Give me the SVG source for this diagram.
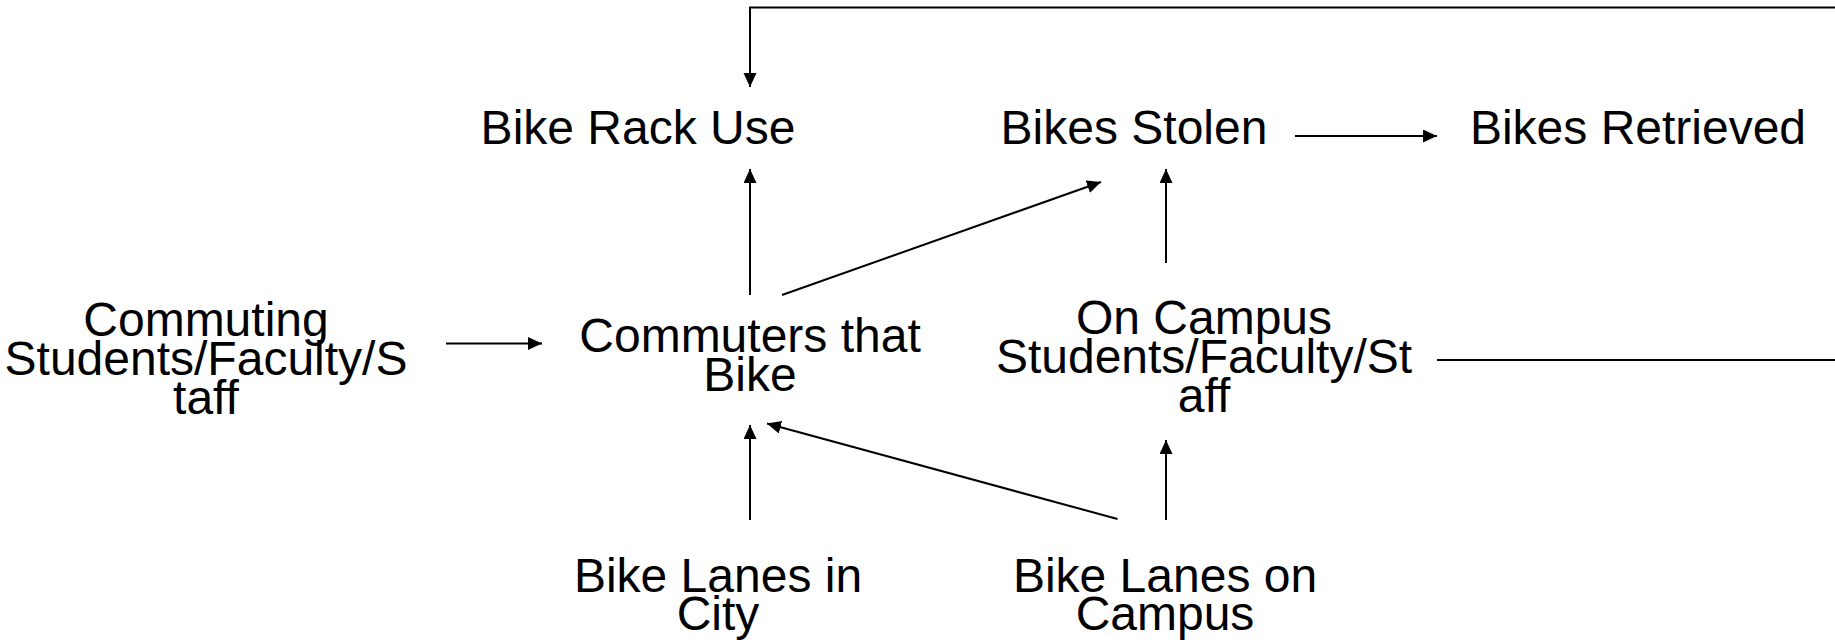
<svg xmlns="http://www.w3.org/2000/svg" width="1835" height="643" viewBox="0 0 1835 643">
  <style>
    text { font-family: "Liberation Sans", Arial, sans-serif; font-size: 48px; fill: #000; text-anchor: middle; }
    .edge { stroke: #000; stroke-width: 2; fill: none; }
    .arr { marker-end: url(#ah); }
  </style>
  <defs>
    <marker id="ah" markerUnits="userSpaceOnUse" markerWidth="16" markerHeight="14" refX="14" refY="6.5" orient="auto">
      <path d="M0,0 L14,6.5 L0,13 z" fill="#000"/>
    </marker>
  </defs>
  <rect width="1835" height="643" fill="#fff"/>
  <g id="connectors">
    <polyline class="edge arr" points="1835,7.5 750,7.5 750,87"/>
    <line class="edge arr" x1="750" y1="295" x2="750" y2="169"/>
    <line class="edge arr" x1="782" y1="295" x2="1101" y2="182"/>
    <line class="edge arr" x1="1166" y1="263" x2="1166" y2="169"/>
    <line class="edge arr" x1="1295" y1="136" x2="1437" y2="136"/>
    <line class="edge arr" x1="446" y1="343.5" x2="542" y2="343.5"/>
    <line class="edge" x1="1437" y1="360" x2="1835" y2="360"/>
    <line class="edge arr" x1="750" y1="520" x2="750" y2="425"/>
    <line class="edge arr" x1="1117.5" y1="519" x2="767" y2="423.5"/>
    <line class="edge arr" x1="1166" y1="520" x2="1166" y2="440"/>
  </g>
  <g id="bike-rack-use"><text x="638" y="143.5">Bike Rack Use</text></g>
  <g id="bikes-stolen"><text x="1134" y="143.5">Bikes Stolen</text></g>
  <g id="bikes-retrieved"><text x="1638" y="143.5">Bikes Retrieved</text></g>
  <g id="commuting">
    <text x="206" y="336">Commuting</text>
    <text x="206" y="375">Students/Faculty/S</text>
    <text x="206" y="414">taff</text>
  </g>
  <g id="commuters-that-bike">
    <text x="750" y="352">Commuters that</text>
    <text x="750" y="391">Bike</text>
  </g>
  <g id="on-campus">
    <text x="1204" y="334">On Campus</text>
    <text x="1204" y="373">Students/Faculty/St</text>
    <text x="1204" y="412">aff</text>
  </g>
  <g id="bike-lanes-city">
    <text x="718" y="591.5">Bike Lanes in</text>
    <text x="718" y="630">City</text>
  </g>
  <g id="bike-lanes-campus">
    <text x="1165" y="591.5">Bike Lanes on</text>
    <text x="1165" y="630">Campus</text>
  </g>
</svg>
